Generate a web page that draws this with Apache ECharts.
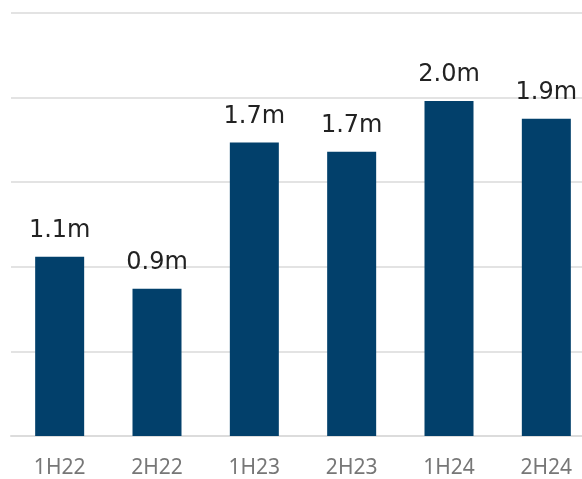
<!DOCTYPE html>
<html><head><meta charset="utf-8">
<script src="https://cdn.jsdelivr.net/npm/echarts@6/dist/echarts.min.js"></script>
<style>html,body{margin:0;padding:0;background:#fff;overflow:hidden}#c{width:600px;height:479px}</style>
</head><body><div id="c"></div>
<script>
const categories = ['1H22','2H22','1H23','2H23','1H24','2H24'];
const values = [1.06, 0.87, 1.735, 1.68, 1.98, 1.875];
const labels = ['1.1m','0.9m','1.7m','1.7m','2.0m','1.9m'];
const chart = echarts.init(document.getElementById('c'));
chart.setOption({
  animation:false,
  grid:{left:11, top:13, width:584, height:425},
  xAxis:{type:'category', data:categories,
    axisLine:{show:true, lineStyle:{color:'#dcdcdc', width:2}},
    axisTick:{show:false},
    axisLabel:{color:'#777', fontSize:21, fontFamily:'Noto Sans', margin:22}},
  yAxis:{type:'value', min:0, max:2.5, interval:0.5,
    axisLabel:{show:false}, axisLine:{show:false}, axisTick:{show:false},
    splitLine:{lineStyle:{color:'#e3e3e3', width:2}}},
  series:[{type:'bar', data:values, barWidth:49,
    itemStyle:{color:'#02406b'},
    label:{show:true, position:'top', distance:14, color:'#222', fontSize:24, fontFamily:'DejaVu Sans',
      formatter:p=>labels[p.dataIndex]}}]
});
</script></body></html>
